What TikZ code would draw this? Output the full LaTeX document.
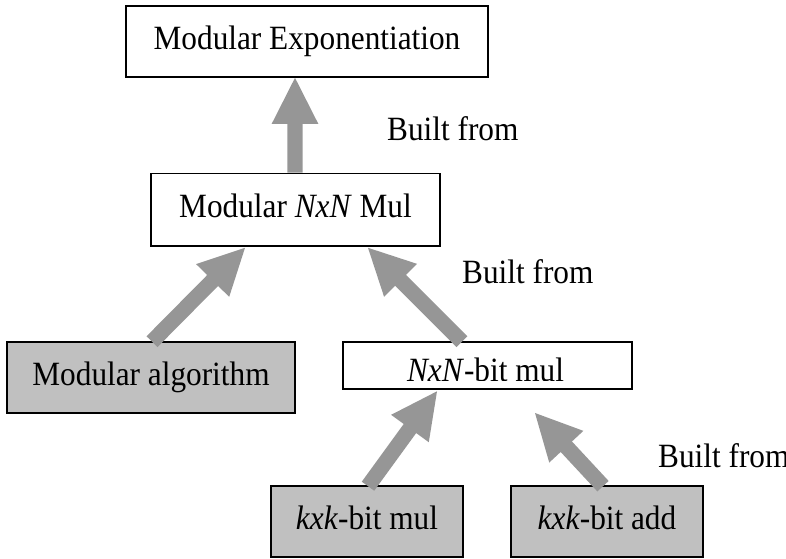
\documentclass[tikz,border=0pt]{standalone}
\usepackage{fontspec}
\setmainfont{Liberation Serif}
\usetikzlibrary{calc}

\definecolor{boxfill}{RGB}{192,192,192}
\definecolor{arrowfill}{RGB}{150,150,150}

% slightly condensed setting of the block and caption texts
\newcommand{\condensed}[1]{\scalebox{0.92}[1]{#1}}

% Broad block arrow from a tail point #1 to a tip point #2
\newcommand{\fatarrow}[2]{%
  \coordinate (fa-base) at ($(#2)!46pt!(#1)$);
  \fill[arrowfill] (#2)
    -- ($(fa-base)!23.3pt!90:(#1)$)
    -- ($(fa-base)!7.7pt!90:(#1)$)
    -- ($(#1)!7.7pt!-90:(#2)$)
    -- ($(#1)!7.7pt!90:(#2)$)
    -- ($(fa-base)!7.7pt!-90:(#1)$)
    -- ($(fa-base)!23.3pt!-90:(#1)$)
    -- cycle;}

\tikzset{
  bodyfont/.style={font=\fontsize{34}{40}\selectfont},
  box/.style={draw, line width=1.6pt, inner sep=0pt, bodyfont,
              text height=22pt, text depth=7pt},
  greybox/.style={box, fill=boxfill},
  caption/.style={bodyfont, inner sep=0pt, anchor=base west},
}

\begin{document}
\begin{tikzpicture}[x=1pt, y=1pt]
\useasboundingbox (0,0) rectangle (786,-558);

% blocks
\node[box, minimum width=362pt, minimum height=71pt] (mexp) at (307,-41.5) {\condensed{Modular Exponentiation}};
\node[box, minimum width=289pt, minimum height=72.5pt] (mmul) at (295.5,-209.75) {\condensed{Modular \textit{NxN} Mul}};
\node[greybox, minimum width=288pt, minimum height=71pt] (malg) at (151,-377.5) {\condensed{Modular algorithm}};
\node[box, minimum width=289pt, minimum height=47pt] (nmul) at (487.5,-365.5) {};
\node[greybox, minimum width=192pt, minimum height=71pt] (kmul) at (367,-521.5) {\condensed{\textit{kxk}-bit mul}};
\node[greybox, minimum width=192pt, minimum height=71pt] (kadd) at (607,-521.5) {\condensed{\textit{kxk}-bit add}};

% text of the N x N block, cut off along its lower edge
\begin{scope}
  \clip (343,-342) rectangle (632,-380);
  \node[caption, anchor=base] (nmultext) at (485.5,-381) {\condensed{\textit{NxN}-bit mul}};
\end{scope}

% arrow ends
\coordinate (a1tail) at ([xshift=-0.5pt]mmul.north);
\coordinate (a1tip)  at ([xshift=-12pt]mexp.south);
\coordinate (a2tail) at ([xshift=1pt,yshift=-0.5pt]malg.north);
\coordinate (a2tip)  at ([xshift=-50.5pt,yshift=-1pt]mmul.south);
\coordinate (a3tail) at ([xshift=-25.5pt,yshift=-0.5pt]nmul.north);
\coordinate (a3tip)  at ([xshift=72.5pt,yshift=-1pt]mmul.south);
\coordinate (a4tail) at ([xshift=1pt,yshift=-1pt]kmul.north);
\coordinate (a4tip)  at ([xshift=-50.5pt,yshift=-1.5pt]nmul.south);
\coordinate (a5tail) at ([xshift=-4pt,yshift=-1pt]kadd.north);
\coordinate (a5tip)  at (535,-413);

\fatarrow{a1tail}{a1tip}
\fatarrow{a2tail}{a2tip}
\fatarrow{a3tail}{a3tip}
\fatarrow{a4tail}{a4tip}
\fatarrow{a5tail}{a5tip}

% captions, each cut at the right edge of its text frame
\begin{scope}
  \clip (387,-100) rectangle (518,-160);
  \node[caption] (built1) at (387,-140) {\condensed{Built from}};
\end{scope}
\begin{scope}
  \clip (462,-243) rectangle (593,-303);
  \node[caption] (built2) at (462,-283) {\condensed{Built from}};
\end{scope}
\begin{scope}
  \clip (658,-427) rectangle (786,-487);
  \node[caption] (built3) at (658,-467) {\condensed{Built from}};
\end{scope}
\end{tikzpicture}
\end{document}
